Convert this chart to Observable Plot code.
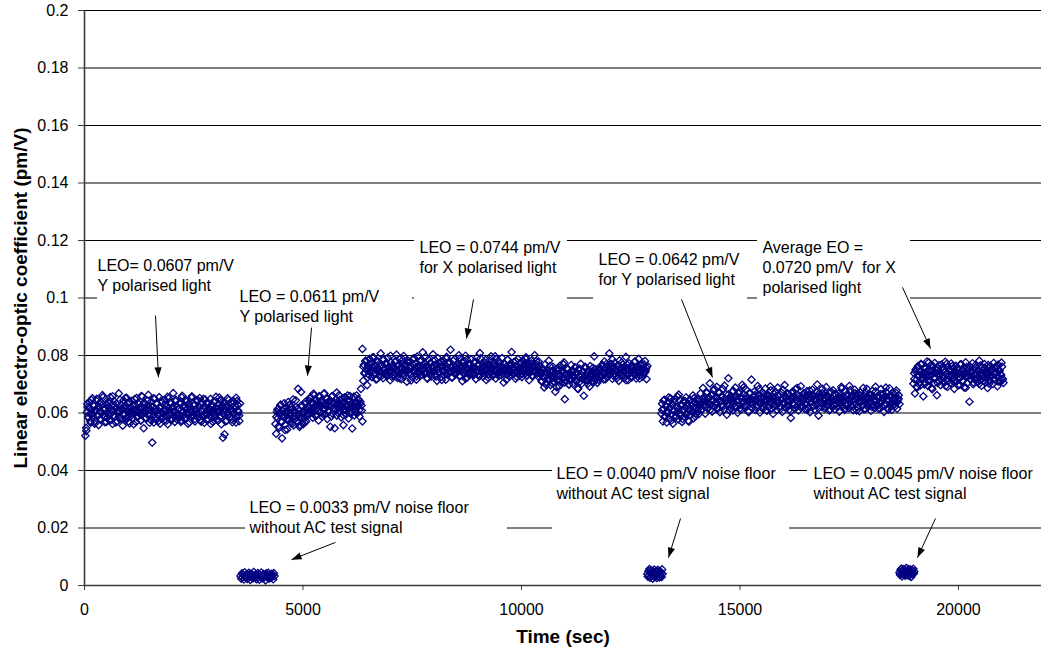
<!DOCTYPE html>
<html><head><meta charset="utf-8">
<script src="https://cdn.jsdelivr.net/npm/d3@7"></script>
<script src="https://cdn.jsdelivr.net/npm/@observablehq/plot@0.6"></script>
<style>html,body{margin:0;padding:0;background:#fff;}</style>
</head><body><div id="chart"></div>
<script>
// ---- data: linear electro-optic coefficient, in units of 0.0001 pm/V ----
// Y polarised light, run 1 (two interleaved sample sets)
const y1Values = [
521,548,602,621,585,639,597,566,612,651,588,624,571,606,643,592,617,558,634,603,
579,626,662,594,611,568,647,601,583,637,619,574,655,598,626,562,609,641,587,615,
633,571,598,668,604,582,629,611,556,644,596,621,578,653,607,589,635,564,616,600,
642,581,613,597,627,569,652,605,588,631,612,574,659,593,618,547,636,602,584,625,
607,663,589,614,576,640,497,622,567,649,603,585,631,611,572,655,596,619,583,638,
599,574,646,612,588,624,561,651,607,593,632,576,617,669,590,606,641,579,623,595,
612,583,637,569,654,604,591,627,578,646,600,615,563,633,598,621,586,658,605,592,
628,571,609,644,597,583,619,652,575,606,639,588,613,566,647,602,594,631,578,617,
601,649,584,622,569,610,638,593,656,577,614,603,629,587,643,561,620,514,635,526,
609,625,573,651,596,618,584,637,606,568,642,599,615,579,653,591,628,603,572,633];
const y1ValuesB = [
538,631,584,619,572,645,598,627,563,612,649,590,622,578,637,601,655,586,615,569,
628,596,641,575,610,658,592,624,567,633,604,587,646,613,579,621,598,652,583,617,
571,639,605,592,626,561,648,610,587,635,599,620,574,657,603,629,582,614,643,596,
566,624,607,588,651,612,577,634,595,619,563,642,600,585,628,609,573,656,616,592,
637,581,622,604,569,646,597,613,589,631,575,660,606,618,584,639,593,627,568,611,
653,590,625,579,614,601,644,586,632,570,608,649,594,621,577,636,603,615,562,630,
598,641,583,617,605,574,654,612,589,627,596,638,571,619,602,645,587,613,578,633,
599,626,567,642,608,591];
// noise floor without AC test signal, run 1
const noise1Values = [
33,24,42,29,37,21,46,31,27,40,23,36,44,30,19,41,28,38,25,47,34,26,39,22,35,
43,29,20,37,32,45,25,31,40,27,36,18,42,33,28,44,24,38,30,26,41,35,22,43,33];
// Y polarised light, run 2
const y2Values = [
562,528,604,581,615,549,593,627,571,512,608,586,634,559,598,619,543,604,577,628,
591,565,612,585,647,557,602,579,621,594,566,684,609,552,588,673,597,624,561,605,
583,639,571,612,596,
618,642,597,655,612,631,584,667,623,606,648,591,636,619,574,659,628,603,645,587,
633,614,668,596,625,651,579,638,609,642,552,621,657,598,634,613,547,646,627,591,
639,618,662,604,631,585,649,622,558,637,611,654,596,628,643,581,617,659,603,634,
546,625,648,592,636,614,661,599,627,645,588,632,684,609,571];
const y2ValuesB = [
587,612,554,601,629,568,593,616,541,605,582,638,575,599,621,563,608,589,644,572,
615,596,558,626,584,603,569,632,591,611,
624,651,603,637,615,662,591,644,628,609,655,621,638,597,667,614,632,649,606,626,
643,588,659,619,635,612,671,601,629,646,617,638,593,654,623,609,661,627,641,598,
633,618,657,604,636,622,648,611,639,626];
// X polarised light, run 1
const x1Values = [
823,712,768,741,779,752,697,764,733,788,746,771,725,759,794,738,762,717,781,749,
756,729,773,807,742,766,721,785,751,737,769,728,792,745,758,714,776,739,763,754,
731,778,747,803,722,765,743,787,756,718,771,736,798,752,741,767,709,783,748,760,
777,735,762,724,789,750,744,772,716,796,758,739,765,729,781,747,811,753,736,770,
743,764,719,786,751,738,775,727,762,804,746,733,768,755,712,791,740,774,757,726,
763,748,782,731,769,716,795,752,739,777,745,820,758,723,766,749,787,734,761,742,
754,772,728,789,746,763,711,781,750,737,799,759,724,770,743,765,733,786,748,757,
739,776,753,718,792,744,767,731,808,756,741,773,726,762,749,784,715,769,752,735,
768,742,797,757,729,774,748,763,720,787,751,738,779,745,766,732,791,755,706,771,
747,761,734,785,753,727,770,744,812,759,736,777,750,719,764,741,788,756,730,773,
758,725,783,749,768,737,794,752,743,775,714,766,754,781,731,762,747,801,739,770,
756,728,779,745,763,
741,712,755,726,689,768,733,704,749,719,782,731,697,744,722,761,708,736,674,752,
727,715,748,693,764,731,706,742,720,776,648,735,711,753,726,699,741,718,767,729,
702,746,724,758,713,737,685,751,728,709,771,733,719,745,660,727,756,714,739,702,
748,722,763,735,710,744,729,797,716,752,736,705,741,725,759,
752,731,768,744,717,779,738,756,725,763,749,807,734,771,742,719,758,736,775,746,
729,764,751,712,783,740,757,733,769,748,722,761,795,737,754,715,773,743,759,728,
766,747,735,778,752,720,762,741,788,731,756,744,770,726,753,739,781,749,718,764];
const x1ValuesB = [
761,737,782,749,724,770,756,741,793,733,767,752,718,778,745,762,729,787,751,740,
774,735,759,746,799,726,764,753,738,781,747,769,721,757,742,785,731,766,750,776,
739,758,713,771,744,790,754,728,763,748,780,734,767,755,741,796,722,761,749,773,
736,758,745,784,727,769,752,740,778,715,763,748,757,789,733,771,744,760,725,782,
751,738,767,746,801,730,759,775,742,764,719,786,753,737,770,748,762,732,779,756,
743,768,727,790,750,761,739,774,746,758,722,783,754,741,766,735,797,749,763,729,
776,744,759,738,771,752,716,785,747,764,733,769,755,740,781,726,762,751,745,773,
736,758,748,787,730,766,754,741,772,728,763,749,781,737,757,745,
734,709,751,722,745,697,739,716,763,728,704,748,725,741,690,756,731,713,744,720,
769,706,737,724,752,699,733,717,746,729,758,711,740,684,754,727,702,743,721,761,
730,714,749,692,736,723,757,708,742,726,738,715,
748,726,763,739,754,718,771,745,733,760,742,786,729,757,749,721,766,738,752,775,
731,759,744,714,768,750,736,762,724,755,741,779,733,758,747,720,765,752,739,769,
743,757];
// noise floor, run 2
const noise2Values = [
40,31,50,35,57,27,44,53,33,46,24,48,37,55,29,45,34,51,26,42,54,32,47,28,50,36,44,30,56,41];
// Y polarised light, run 3
const y3Values = [
598,632,571,614,646,589,623,567,607,639,582,618,651,594,627,563,610,636,585,621,
602,657,578,615,644,591,626,569,609,641,587,620,654,598,633,574,612,647,593,625,
606,661,582,619,638,596,629,605,648,617,
632,668,611,649,687,624,657,598,643,672,618,651,636,703,627,662,605,645,679,621,
654,638,691,615,647,669,603,641,658,626,684,612,650,637,666,594,645,721,629,656,
617,643,675,609,652,634,688,622,659,601,646,671,628,655,613,698,638,664,619,649,
682,627,653,606,641,667,633,716,618,657,644,676,611,648,624,694,639,661,602,651,
636,672,614,658,629,685,645,608,663,621,652,639,679,616,644,597,667,631,656,642,
611,688,634,659,623,646,671,604,651,637,697,619,655,642,668,626,612,661,583,648,
674,631,657,616,682,645,622,663,609,650,636,693,627,654,641,669,614,658,632,676,
618,647,665,603,652,638,681,624,660,612,646,673,629,655,591,668,640,657,621,684,
633,662,615,649,690,626,658,643,609,671,637,653,620,679,645,613,664,631,652,638,
667,605,648,634,685,622,656,641,611,675,628,659,646,617,694,636,653,625,663,610,
649,681,632,657,619,668,642,606,661,638,654,627,687,613,646,672,634,658,621,650,
639,664,608,653,677,630,645,618,691,643,626,660,614,655,637,683,622,648,666,604,
657,633,672,616,649,641,686,624,659,611,647,669,629,652,638,678,615,646,662,631];
const y3ValuesB = [
611,643,586,625,598,654,617,573,632,606,648,589,621,664,600,628,579,613,641,595,
624,570,609,636,602,651,588,619,645,597,627,612,638,
648,626,669,637,655,612,661,643,684,629,651,617,672,640,658,623,695,646,633,664,
609,652,639,677,621,657,644,668,615,650,635,689,627,659,642,603,671,648,631,656,
662,618,645,683,636,653,624,667,641,610,658,647,692,630,654,621,674,643,637,660,
614,649,681,633,657,626,665,640,605,652,671,628,646,687,639,659,619,644,663,632,
655,611,648,678,636,662,625,651,642,699,617,656,634,669,645,622,660,638,653,613,
674,641,629,666,647,620,658,635,691,643,654,616,663,631,649,680,624,657,640,668,
609,652,637,671,645,627,659,614,684,648,633,662,621,655,642,675,630,651,618,666,
639,653,626,688,644,612,661,635,657,647,622,670,638,650];
// noise floor, run 3
const noise3Values = [
45,37,54,41,59,32,50,43,56,38,48,34,53,61,44,36,51,46,57,33,47,40,55,30,45,52,39,58,42,49];
// X polarised light, run 2
const x2Values = [
702,738,668,751,715,689,763,727,744,696,771,719,733,658,756,708,741,725,779,694,
729,752,711,766,687,735,748,703,774,721,739,662,758,713,745,731,697,768,724,750,
707,743,778,716,736,691,760,727,749,705,772,732,718,755,684,741,764,710,737,753,
722,698,769,731,746,712,757,689,738,776,725,704,751,733,639,761,717,744,729,700,
754,718,767,736,709,748,726,782,714,740,695,759,730,722,770,706,745,734,687,757,
737,712,763,728,750,701,774,735,716,756,741,693,768,724,747,710,732,761,719,705];
const x2ValuesB = [
718,745,692,759,731,707,768,723,741,699,754,735,712,776,728,746,683,762,720,739,
751,704,766,733,716,758,727,742,694,771,737,714,749,725,763,709,744,731,756,697,
739,722,769,711,747,734,688,760,726,752,717,741,773,706,735,758,721,744,701,765,
729,748,713,757,738,723,767,702,745,732,754,719,740,762,727,710,749,736,775,715];

// time span (sec) of each sample set
const segmentValues = [y1Values, y1ValuesB, noise1Values, y2Values, y2ValuesB, x1Values, x1ValuesB,
                       noise2Values, y3Values, y3ValuesB, noise3Values, x2Values, x2ValuesB];
const segmentStart = [20, 40, 3570, 4370, 4390, 6360, 6380, 12880, 13200, 13220, 18650, 18970, 18990];
const segmentEnd   = [3560, 3540, 4350, 6360, 6340, 12880, 12860, 13230, 18650, 18630, 18990, 21030, 21010];

const yTicks = [0, 0.02, 0.04, 0.06, 0.08, 0.1, 0.12, 0.14, 0.16, 0.18, 0.2];
const xTicks = [0, 5000, 10000, 15000, 20000];

// annotations (data coordinates: time, pm/V)
const annText = [
  "LEO= 0.0607 pm/V\nY polarised light",
  "LEO = 0.0611 pm/V\nY polarised light",
  "LEO = 0.0744 pm/V\nfor X polarised light",
  "LEO = 0.0642 pm/V\nfor Y polarised light",
  "Average EO =\n0.0720 pm/V\u00a0 for X\npolarised light",
  "LEO = 0.0033 pm/V noise floor\nwithout AC test signal",
  "LEO = 0.0040 pm/V noise floor\nwithout AC test signal",
  "LEO = 0.0045 pm/V noise floor\nwithout AC test signal"];
const annX = [297, 3547, 7666, 11762, 15515, 3776, 10801, 16682];
const annY = [0.1141, 0.1033, 0.1203, 0.1162, 0.1203, 0.0299, 0.0417, 0.0417];

const boxX1 = [297, 3387, 7552, 11648, 15401, 3684, 10710, 16545];
const boxX2 = [3570, 7506, 11053, 15172, 18902, 9680, 16133, 21900];
const boxY1 = [0.0984, 0.0950, 0.0984, 0.0984, 0.0984, 0.0174, 0.0174, 0.0278];
const boxY2 = [0.1183, 0.1054, 0.1228, 0.1183, 0.1228, 0.0324, 0.0442, 0.0442];

const arrowX1 = [1625, 5195, 8902, 13662, 18719, 5744, 13639, 19474];
const arrowY1 = [0.0939, 0.0897, 0.0995, 0.0995, 0.1037, 0.0150, 0.0233, 0.0233];
const arrowX2 = [1693, 5103, 8742, 14371, 19360, 4737, 13364, 19062];
const arrowY2 = [0.0724, 0.0730, 0.0859, 0.0724, 0.0824, 0.0090, 0.0097, 0.0097];

// ---- build tables ----
const points = [];
segmentValues.forEach((vals, s) => {
  const n = vals.length;
  vals.forEach((v, i) => points.push({
    t: segmentStart[s] + (segmentEnd[s] - segmentStart[s]) * i / (n - 1),
    v: v / 10000
  }));
});
const annotations = annText.map((text, i) => ({text, x: annX[i], y: annY[i]}));
const boxes = boxX1.map((x1, i) => ({x1, x2: boxX2[i], y1: boxY1[i], y2: boxY2[i]}));

const W = 1041, H = 653, ML = 84, MR = 0, MT = 10, MB = 68;
const xDomain = [0, 21900], yDomain = [0, 0.2];
const kx = (W - ML - MR) / (xDomain[1] - xDomain[0]);
const ky = (H - MT - MB) / (yDomain[1] - yDomain[0]);
const arrows = arrowX1.map((x1, i) => {
  const x2 = arrowX2[i], y1 = arrowY1[i], y2 = arrowY2[i];
  return {x1, y1, x2, y2, angle: Math.atan2((x2 - x1) * kx, (y2 - y1) * ky) * 180 / Math.PI};
});
const arrowHead = {draw(ctx) { ctx.moveTo(0, 0); ctx.lineTo(-3.6, 10); ctx.lineTo(3.6, 10); ctx.closePath(); }};

const chart = Plot.plot({
  width: W, height: H,
  marginLeft: ML, marginRight: MR, marginTop: MT, marginBottom: MB,
  style: {fontFamily: "'Liberation Sans', Arial, sans-serif", fontSize: "16px", background: "#fff", color: "#000"},
  x: {domain: xDomain},
  y: {domain: yDomain},
  marks: [
    Plot.ruleY(yTicks.filter(d => d > 0), {stroke: "#000", strokeWidth: 1}),
    Plot.rect(boxes, {x1: "x1", x2: "x2", y1: "y1", y2: "y2", fill: "#fff"}),
    Plot.ruleX([0], {stroke: "#3a3a3a", strokeWidth: 1.6}),
    Plot.ruleY([0], {stroke: "#3a3a3a", strokeWidth: 1.6}),
    Plot.axisY(yTicks, {tickSize: 6, tickPadding: 10, tickFormat: d => String(d), label: null, stroke: "#3a3a3a"}),
    Plot.axisX(xTicks, {tickSize: 5, tickPadding: 13, tickFormat: d => String(d), label: null, stroke: "#3a3a3a"}),
    Plot.dot(points, {x: "t", y: "v", symbol: "diamond2", r: 3.3, stroke: "#000080", strokeWidth: 1.3, fill: "none"}),
    Plot.link(arrows, {x1: "x1", y1: "y1", x2: "x2", y2: "y2", stroke: "#000", strokeWidth: 1}),
    Plot.dot(arrows, {x: "x2", y: "y2", symbol: arrowHead, rotate: "angle", fill: "#000", stroke: "none", r: 4}),
    Plot.text(annotations, {x: "x", y: "y", text: "text", textAnchor: "start", lineAnchor: "top", fontSize: 16, lineHeight: 1.22, fill: "#000"}),
    Plot.text(["Time (sec)"], {text: d => d, frameAnchor: "bottom", dy: 51, lineAnchor: "middle", fontWeight: "bold", fontSize: 19, fill: "#000"}),
    Plot.text(["Linear electro-optic coefficient (pm/V)"], {text: d => d, frameAnchor: "left", dx: -64, rotate: -90, textAnchor: "middle", lineAnchor: "middle", fontWeight: "bold", fontSize: 19, fill: "#000"})
  ]
});
document.getElementById("chart").appendChild(chart);
</script>
</body></html>
